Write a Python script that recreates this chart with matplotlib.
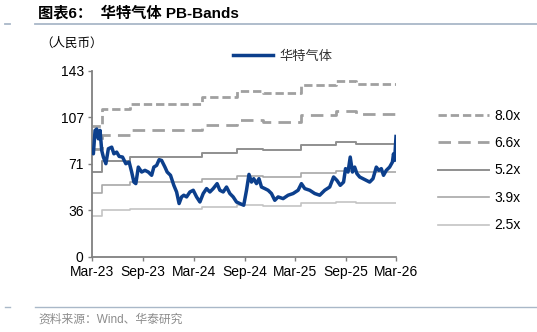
import matplotlib
matplotlib.use("Agg")
from matplotlib import pyplot as plt
from matplotlib.lines import Line2D
import matplotlib.dates as mdates
import pandas as pd

plt.rcParams['font.family'] = ['Liberation Sans', 'Noto Sans CJK SC']

# share price (CNY)
price_dates = [
    "2023-03-02", "2023-03-06", "2023-03-12", "2023-03-18", "2023-03-24", "2023-03-30",
    "2023-04-05", "2023-04-11", "2023-04-20", "2023-04-29", "2023-05-11", "2023-05-19",
    "2023-05-29", "2023-06-07", "2023-06-19", "2023-07-01", "2023-07-13", "2023-07-22",
    "2023-07-30", "2023-08-06", "2023-08-15", "2023-08-27", "2023-09-08", "2023-09-20",
    "2023-10-02", "2023-10-10", "2023-10-20", "2023-10-29", "2023-11-07", "2023-11-19",
    "2023-11-27", "2023-12-09", "2023-12-21", "2023-12-31", "2024-01-09", "2024-01-18",
    "2024-01-26", "2024-02-05", "2024-02-17", "2024-02-29", "2024-03-12", "2024-03-24",
    "2024-04-05", "2024-04-17", "2024-04-29", "2024-05-11", "2024-05-25", "2024-06-04",
    "2024-06-16", "2024-06-28", "2024-07-10", "2024-07-22", "2024-08-03", "2024-08-15",
    "2024-08-29", "2024-09-08", "2024-09-17", "2024-09-26", "2024-10-04", "2024-10-14",
    "2024-10-23", "2024-11-01", "2024-11-13", "2024-11-25", "2024-12-07", "2024-12-19",
    "2024-12-31", "2025-01-18", "2025-02-05", "2025-02-23", "2025-03-13", "2025-03-25",
    "2025-04-06", "2025-04-24", "2025-05-12", "2025-05-30", "2025-06-17", "2025-07-05",
    "2025-07-19", "2025-07-31", "2025-08-12", "2025-08-24", "2025-08-31", "2025-09-09",
    "2025-09-17", "2025-09-25", "2025-10-03", "2025-10-11", "2025-10-21", "2025-11-02",
    "2025-11-14", "2025-11-26", "2025-12-08", "2025-12-20", "2025-12-29", "2026-01-07",
    "2026-01-15", "2026-01-25", "2026-02-06", "2026-02-16", "2026-02-20", "2026-02-24",
    "2026-03-01",
]
price = [
    81.6, 79.0, 96.9, 98.0, 90.5, 97.0,
    81.6, 76.5, 71.4, 82.9, 84.1, 79.0,
    80.3, 77.0, 76.5, 71.4, 72.6, 65.0,
    57.3, 56.1, 68.8, 65.0, 66.3, 65.0,
    62.5, 68.8, 70.1, 74.5, 73.9, 68.8,
    65.0, 62.5, 54.8, 49.7, 40.8, 45.9,
    47.2, 45.9, 49.7, 51.0, 45.9, 42.0,
    48.5, 52.3, 49.7, 52.3, 56.1, 51.0,
    49.7, 53.5, 48.5, 45.9, 42.0, 40.8,
    39.5, 51.0, 63.2, 57.3, 59.9, 56.1,
    59.9, 53.5, 52.3, 51.0, 48.5, 43.3,
    45.9, 44.6, 47.2, 48.5, 51.0, 56.1,
    52.3, 51.0, 48.5, 47.2, 51.0, 53.5,
    61.2, 58.6, 54.8, 57.3, 67.6, 65.0,
    76.5, 65.0, 68.8, 63.8, 61.2, 59.9,
    58.6, 57.3, 59.9, 68.8, 66.3, 67.6,
    62.5, 66.3, 68.8, 72.6, 79.0, 73.9,
    92.3,
]

# book value per share used for the bands
bps_dates = ["2023-03-01", "2023-04-05", "2023-07-16", "2024-03-30", "2024-08-03",
             "2024-11-06", "2025-03-25", "2025-07-29", "2025-10-09", "2026-03-01"]
bps = [12.5, 14.2, 14.7, 15.3, 15.9, 15.7, 16.5, 16.9, 16.6, 16.6]

multiples = [8.0, 6.6, 5.2, 3.9, 2.5]
band_labels = ["8.0x", "6.6x", "5.2x", "3.9x", "2.5x"]

px = pd.to_datetime(price_dates)
bx = pd.to_datetime(bps_dates)

fig = plt.figure(figsize=(5.37, 3.32), dpi=100)
ax = fig.add_axes([92 / 537, 1 - 256.7 / 332, 304 / 537, 186 / 332])

styles = [
    dict(color="#a0a0a0", lw=2.0, ls=(0, (3, 1.4))),
    dict(color="#a0a0a0", lw=2.0, ls=(0, (4.5, 2.6))),
    dict(color="#8f8f8f", lw=1.4, ls="-"),
    dict(color="#a8a8a8", lw=1.2, ls="-"),
    dict(color="#c4c4c4", lw=1.2, ls="-"),
]
band_lines = []
for m, lab, st in zip(multiples, band_labels, styles):
    vals = [m * b for b in bps]
    ln, = ax.plot(bx, vals, drawstyle="steps-post", label=lab, **st)
    band_lines.append(ln)

price_line, = ax.plot(px, price, color="#0c3f8c", lw=2.5, label="华特气体", zorder=5)

ax.set_ylim(0, 142.8)
ax.set_yticks([0, 142.8 / 4, 142.8 / 2, 142.8 * 3 / 4, 142.8])
ax.yaxis.set_major_formatter(matplotlib.ticker.FormatStrFormatter("%.0f"))
ax.set_xlim(pd.Timestamp("2023-03-01"), pd.Timestamp("2026-03-01"))
ax.set_xticks(pd.date_range("2023-03-01", "2026-03-01", freq="6MS"))
ax.xaxis.set_major_formatter(mdates.DateFormatter("%b-%y"))

for s in ["top", "right"]:
    ax.spines[s].set_visible(False)
for s in ["left", "bottom"]:
    ax.spines[s].set_color("#808080")
    ax.spines[s].set_linewidth(1.3)
ax.tick_params(axis="both", colors="#808080", length=3, width=1, labelsize=10,
               labelcolor="black", pad=3)

# legends
fig.legend(handles=[price_line], loc="center left",
           bbox_to_anchor=(233 / 537, 1 - 57 / 332), frameon=False,
           fontsize=9.5, handlelength=3.0, handletextpad=0.5,
           borderpad=0, borderaxespad=0, labelcolor="#333333")
fig.legend(handles=band_lines, loc="upper left",
           bbox_to_anchor=(437.7 / 537, 1 - 108.5 / 332), frameon=False,
           fontsize=10, handlelength=3.7, handletextpad=0.35,
           labelspacing=0.97, borderpad=0, borderaxespad=0)

# header and footer
fig.text(38 / 537, 1 - 13 / 332, "图表6：  华特气体 PB-Bands", fontsize=11,
         fontweight="bold", va="center", ha="left")
fig.add_artist(Line2D([35 / 537, 1], [1 - 24 / 332] * 2, color="#a9b8c8", lw=1.3))
fig.add_artist(Line2D([5 / 537, 10 / 537], [1 - 24 / 332] * 2, color="#a9b8c8", lw=1.3))
fig.text(40 / 537, 1 - 44 / 332, "（人民币）", fontsize=9, va="center", ha="left")
fig.add_artist(Line2D([35 / 537, 1], [1 - 307.3 / 332] * 2, color="#a9b8c8", lw=1.0))
fig.add_artist(Line2D([5 / 537, 10 / 537], [1 - 307.3 / 332] * 2, color="#a9b8c8", lw=1.0))
fig.text(38 / 537, 1 - 320 / 332, "资料来源：Wind、华泰研究", fontsize=8.5,
         color="#8c8c8c", va="center", ha="left")

fig.savefig("out.png", dpi=100)
